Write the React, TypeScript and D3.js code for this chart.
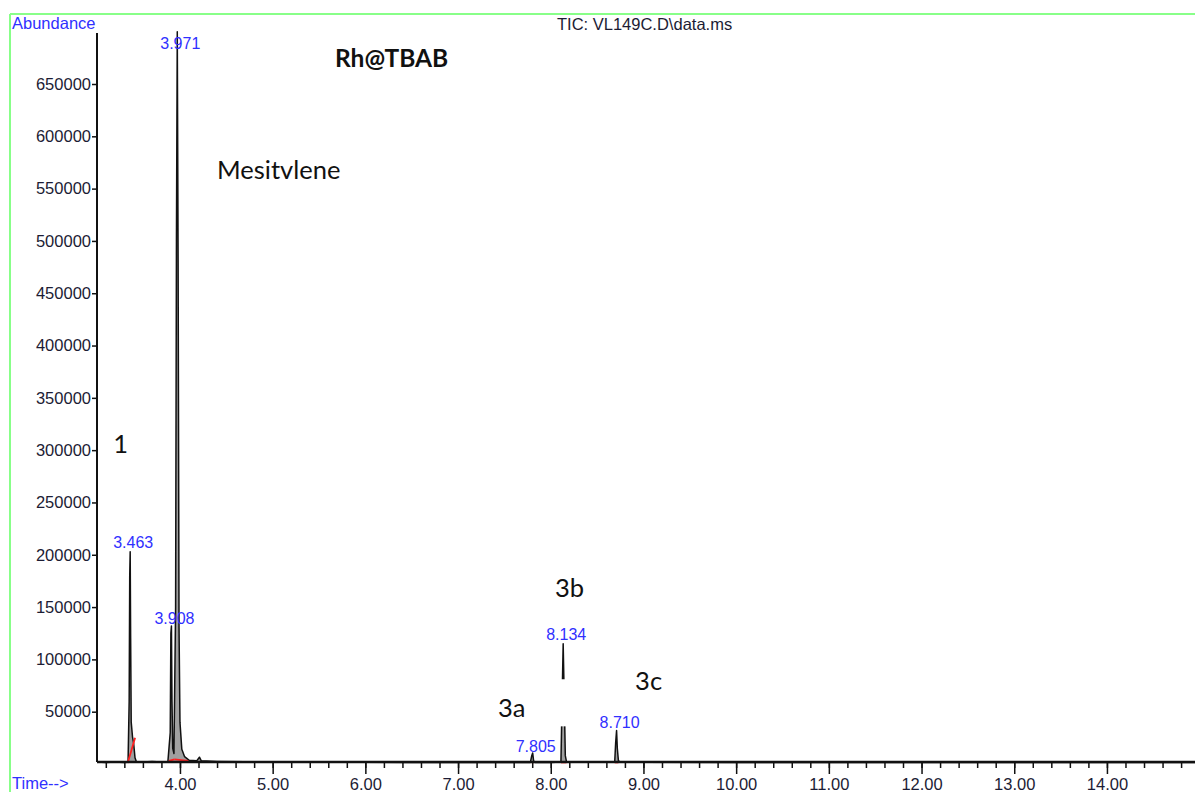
import React from "react";
import * as d3 from "d3";

const W = 1195;
const H = 792;

// retention time (min), abundance
const trace: [number, number][] = [
  [3.11, 1800], [3.2, 1500], [3.3, 1900], [3.4, 1400], [3.44, 1600],
  [3.452, 60000], [3.458, 180000], [3.463, 203000], [3.468, 120000], [3.474, 40000],
  [3.488, 26000], [3.5, 20000], [3.515, 6000], [3.53, 2200],
  [3.6, 1800], [3.7, 2400], [3.8, 2000], [3.87, 2500],
  [3.895, 30000], [3.902, 125000], [3.908, 132000], [3.914, 60000], [3.922, 15000], [3.935, 10000],
  [3.953, 150000], [3.962, 500000], [3.971, 700000], [3.98, 480000], [3.99, 130000],
  [4.0, 40000], [4.02, 14000], [4.05, 7000], [4.1, 3500], [4.18, 3000], [4.21, 6500], [4.23, 3000],
  [4.4, 2500], [4.7, 2200], [5.0, 2000], [5.5, 1800], [6.0, 1700], [6.5, 1500], [7.0, 1500],
  [7.5, 1400], [7.78, 1500], [7.795, 8000], [7.805, 10500], [7.815, 3000], [7.83, 1500],
  [8.0, 1500], [8.11, 2000], [8.122, 60000], [8.134, 115000], [8.146, 60000], [8.157, 8000], [8.17, 2000],
  [8.4, 1800], [8.6, 1700], [8.69, 1800], [8.7, 20000], [8.71, 32000], [8.718, 15000], [8.73, 3000],
  [8.76, 1800], [9.0, 1600], [10.0, 1500], [11.0, 1500], [12.0, 1500], [13.0, 1500], [14.0, 1500], [14.95, 1500],
];

// part of the 8.134 peak hidden in the original print
const hiddenGap = { t0: 8.1, t1: 8.17, a0: 36000, a1: 81000 };

// red integration marks
const integrations: [number, number, number, number][] = [
  [3.436, 1000, 3.516, 25000],
  [3.88, 3000, 3.94, 4500],
  [3.94, 4500, 4.09, 3000],
  [7.795, 1500, 7.815, 1500],
  [8.11, 1500, 8.17, 1500],
  [8.69, 1500, 8.73, 1500],
];

const peakLabels = [
  { rt: 3.971, text: "3.971", at: 683000 },
  { rt: 3.463, text: "3.463", at: 206000 },
  { rt: 3.908, text: "3.908", at: 134000 },
  { rt: 7.805, text: "7.805", at: 11500 },
  { rt: 8.134, text: "8.134", at: 118500 },
  { rt: 8.71, text: "8.710", at: 34000 },
];

const annotations = [
  { rt: 3.28, at: 297000, text: "1" },
  { rt: 4.4, at: 559000, text: "Mesitvlene" },
  { rt: 8.045, at: 159500, text: "3b" },
  { rt: 7.43, at: 45000, text: "3a" },
  { rt: 8.91, at: 70500, text: "3c" },
];

const yTicks = [50000, 100000, 150000, 200000, 250000, 300000, 350000, 400000, 450000, 500000, 550000, 600000, 650000];
const xMajor = [4, 5, 6, 7, 8, 9, 10, 11, 12, 13, 14];
const xMinor = d3.range(3.2, 14.81, 0.2);

const left = 97;
const bottom = 762;
const axisTop = 33;
const tickFont = "'Liberation Sans', Arial, sans-serif";
const noteFont = "Lato, 'Open Sans', sans-serif";
const blue = "#3030ff";

export default function App() {
  const x = d3.scaleLinear().domain([3.105, 14.95]).range([left, W]);
  const y = d3.scaleLinear().domain([0, 650000]).range([764, 84]);

  const line = d3.line<[number, number]>().x((d) => x(d[0])).y((d) => y(d[1]));
  const area = d3
    .area<[number, number]>()
    .x((d) => x(d[0]))
    .y0(y(1500))
    .y1((d) => y(d[1]));

  const yAxis = d3.axisLeft(y).tickValues(yTicks).tickSize(5).tickPadding(1).tickFormat((d) => String(d));
  const xAxisMajor = d3.axisBottom(x).tickValues(xMajor).tickSize(12).tickPadding(4).tickFormat((d) => (+d).toFixed(2));
  const xAxisMinor = d3.axisBottom(x).tickValues(xMinor).tickSize(6).tickFormat(() => "");

  const styleAxis = (node: SVGGElement | null, axis: any) => {
    if (!node) return;
    const g = d3.select(node);
    g.call(axis);
    g.select(".domain").remove();
    g.selectAll("line").attr("stroke", "#111").attr("stroke-width", 1.5);
    g.selectAll("text")
      .attr("font-family", tickFont)
      .attr("font-size", 16.5)
      .attr("fill", "#1c1c34");
  };

  return (
    <svg width={W} height={H} style={{ position: "absolute", left: 0, top: 0, background: "#fff" }}>
      {/* frame */}
      <line x1={10} y1={14} x2={W} y2={14} stroke="#88ff88" strokeWidth={2} />
      <line x1={10} y1={14} x2={10} y2={H} stroke="#88ff88" strokeWidth={2} />

      <text x={12} y={29} fontFamily={tickFont} fontSize={16.5} fill={blue}>Abundance</text>
      <text x={12} y={789} fontFamily={tickFont} fontSize={16.5} fill={blue}>Time--&gt;</text>
      <text x={557} y={30} fontFamily={tickFont} fontSize={16.5} fill="#1c1c34">TIC: VL149C.D\data.ms</text>

      {/* trace */}
      <path d={area(trace) ?? ""} fill="#a0a0a0" />
      <path d={line(trace) ?? ""} fill="none" stroke="#111" strokeWidth={1.5} strokeLinejoin="round" />
      <rect
        x={x(hiddenGap.t0)}
        width={x(hiddenGap.t1) - x(hiddenGap.t0)}
        y={y(hiddenGap.a1)}
        height={y(hiddenGap.a0) - y(hiddenGap.a1)}
        fill="#fff"
      />
      {integrations.map((s, i) => (
        <line key={i} x1={x(s[0])} y1={y(s[1])} x2={x(s[2])} y2={y(s[3])} stroke="#ff2020" strokeWidth={1.8} />
      ))}

      {/* axes */}
      <line x1={left} y1={axisTop} x2={left} y2={bottom} stroke="#111" strokeWidth={2} />
      <line x1={left} y1={bottom} x2={W} y2={bottom} stroke="#111" strokeWidth={2.5} />
      <g transform={`translate(${left},0)`} ref={(n) => styleAxis(n, yAxis)} />
      <g transform={`translate(0,${bottom})`} ref={(n) => styleAxis(n, xAxisMinor)} />
      <g transform={`translate(0,${bottom})`} ref={(n) => styleAxis(n, xAxisMajor)} />

      {peakLabels.map((p) => (
        <text key={p.text} x={x(p.rt) + 3} y={y(p.at)} textAnchor="middle" fontFamily={tickFont} fontSize={16} fill={blue}>
          {p.text}
        </text>
      ))}

      {annotations.map((a) => (
        <text key={a.text} x={x(a.rt)} y={y(a.at)} fontFamily={noteFont} fontSize={25.5} fill="#111">
          {a.text}
        </text>
      ))}
      <text x={335} y={67} fontFamily={noteFont} fontWeight="bold" fontSize={24.5} fill="#111">
        Rh@TBAB
      </text>
    </svg>
  );
}
